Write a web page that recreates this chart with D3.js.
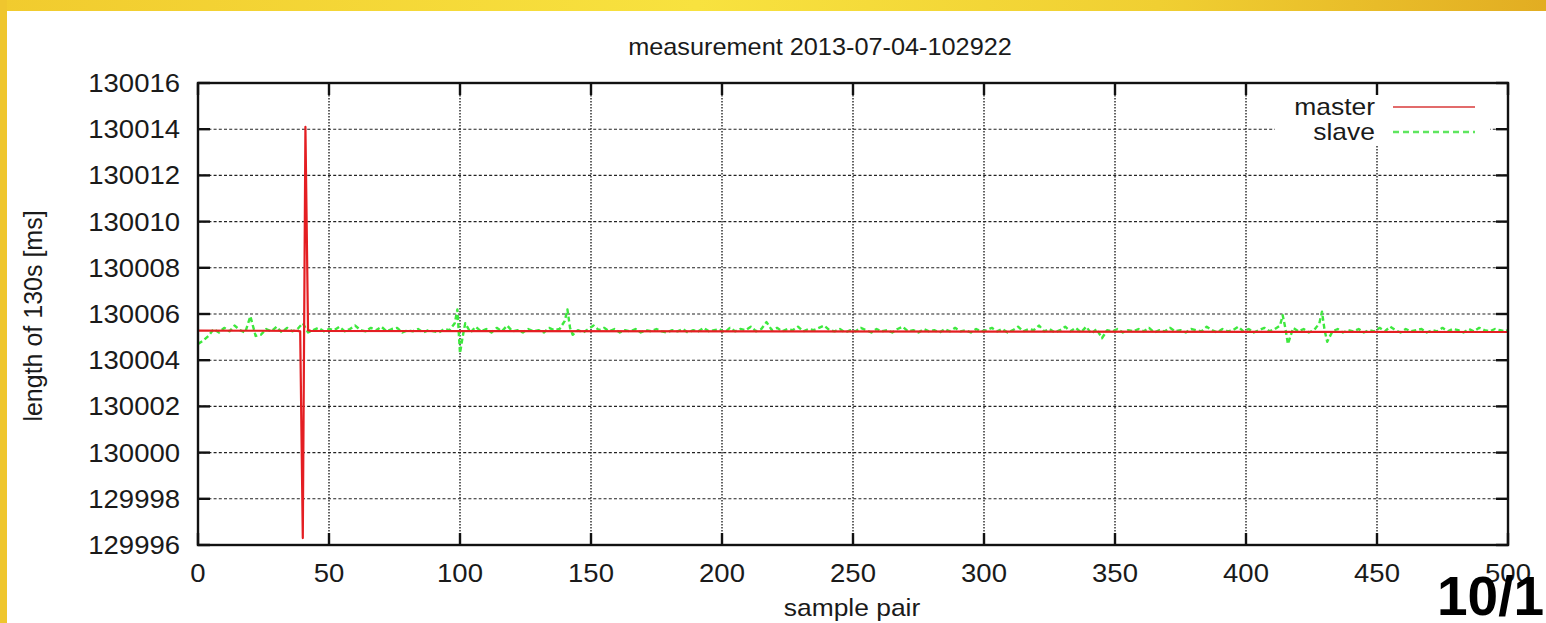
<!DOCTYPE html>
<html>
<head>
<meta charset="utf-8">
<script src="https://cdn.jsdelivr.net/npm/d3@7/dist/d3.min.js"></script>
<style>
  html, body { margin: 0; padding: 0; background: #fff; }
  svg { display: block; }
  text { font-family: "Liberation Sans", Arial, Helvetica, sans-serif; fill: #1a1a1a; }
</style>
</head>
<body>
<svg id="chart" width="1546" height="623"></svg>
<script>
// ---- data ----
const titleText = "measurement 2013-07-04-102922";
const xLabel = "sample pair";
const yLabel = "length of 130s [ms]";
const pageLabel = "10/1";
const seriesNames = ["master", "slave"];
const xTicks = [0, 50, 100, 150, 200, 250, 300, 350, 400, 450, 500];
const yTicks = [129996, 129998, 130000, 130002, 130004, 130006, 130008, 130010, 130012, 130014, 130016];

// master: flat except the glitch around sample 40
const masterX = [0, 38, 39, 40, 41, 42, 43, 500];
const masterY = [130005.28, 130005.27, 130005.25, 129996.3, 130014.1, 130005.3, 130005.27, 130005.22];

// slave: noisy around 130005.3
const slaveX = [0,2,4,6,8,10,12,14,16,18,20,22,24,26,28,30,32,34,36,38,40,42,44,46,48,50,52,54,56,58,60,62,64,66,68,70,72,74,76,78,80,82,84,86,88,90,92,94,96,98,
99,100,101,102,104,106,108,110,112,114,116,118,120,122,124,126,128,130,132,134,136,138,140,141,142,143,145,147,149,151,153,155,157,159,161,163,165,167,169,171,173,175,177,179,181,183,185,187,189,191,193,195,197,199,
201,203,205,207,209,211,213,215,217,219,221,223,225,227,229,231,233,235,237,239,241,243,245,247,249,251,253,255,257,259,261,263,265,267,269,271,273,275,277,279,281,283,285,287,289,291,293,295,297,299,
301,303,305,307,309,311,313,315,317,319,321,323,325,327,329,331,333,335,337,339,341,343,345,347,349,351,353,355,357,359,361,363,365,367,369,371,373,375,377,379,381,383,385,387,389,391,393,395,397,399,
401,403,405,407,409,411,413,414,415,416,418,420,422,424,426,428,429,430,431,433,435,437,439,441,443,445,447,449,451,453,455,457,459,461,463,465,467,469,471,473,475,477,479,481,483,485,487,489,491,493,495,497,499,500];
const slaveY = [130004.70,130004.85,130005.05,130005.35,130005.20,130005.40,130005.25,130005.50,130005.30,130005.20,130005.90,130005.05,130005.10,130005.35,130005.25,130005.45,130005.20,130005.40,130005.25,130005.35,130005.60,130005.20,130005.30,130005.40,130005.25,130005.35,130005.30,130005.45,130005.25,130005.35,130005.50,130005.30,130005.25,130005.40,130005.30,130005.45,130005.25,130005.35,130005.40,130005.20,130005.30,130005.25,130005.35,130005.20,130005.30,130005.25,130005.20,130005.35,130005.30,130005.60,
130006.20,130004.30,130005.00,130005.60,130005.20,130005.45,130005.25,130005.35,130005.20,130005.40,130005.25,130005.50,130005.25,130005.30,130005.20,130005.35,130005.25,130005.30,130005.20,130005.40,130005.30,130005.35,130005.70,130006.20,130005.40,130005.10,130005.30,130005.20,130005.35,130005.50,130005.30,130005.40,130005.25,130005.35,130005.20,130005.30,130005.25,130005.35,130005.20,130005.30,130005.25,130005.35,130005.25,130005.20,130005.30,130005.25,130005.35,130005.20,130005.30,130005.25,130005.40,130005.25,130005.30,130005.35,
130005.20,130005.40,130005.25,130005.35,130005.30,130005.45,130005.25,130005.35,130005.65,130005.30,130005.40,130005.25,130005.35,130005.30,130005.45,130005.25,130005.35,130005.30,130005.40,130005.50,130005.30,130005.25,130005.35,130005.20,130005.30,130005.25,130005.40,130005.30,130005.20,130005.35,130005.25,130005.30,130005.20,130005.35,130005.45,130005.25,130005.30,130005.20,130005.35,130005.25,130005.30,130005.20,130005.35,130005.25,130005.40,130005.25,130005.30,130005.20,130005.35,130005.25,
130005.30,130005.40,130005.25,130005.35,130005.20,130005.30,130005.45,130005.25,130005.35,130005.30,130005.50,130005.25,130005.35,130005.20,130005.30,130005.45,130005.25,130005.40,130005.20,130005.45,130005.15,130005.35,130004.95,130005.30,130005.25,130005.35,130005.20,130005.30,130005.25,130005.35,130005.25,130005.40,130005.20,130005.30,130005.25,130005.40,130005.25,130005.30,130005.20,130005.35,130005.30,130005.25,130005.45,130005.30,130005.20,130005.35,130005.25,130005.30,130005.45,130005.25,
130005.35,130005.20,130005.30,130005.40,130005.25,130005.35,130005.50,130005.95,130005.40,130004.70,130005.40,130005.25,130005.35,130005.20,130005.30,130005.60,130006.10,130005.30,130004.80,130005.25,130005.35,130005.20,130005.30,130005.25,130005.35,130005.20,130005.30,130005.25,130005.40,130005.25,130005.45,130005.30,130005.20,130005.35,130005.25,130005.30,130005.35,130005.20,130005.30,130005.25,130005.40,130005.25,130005.35,130005.30,130005.20,130005.35,130005.25,130005.40,130005.30,130005.25,130005.35,130005.30,130005.25,130005.30];

// ---- drawing ----
(function () {
const svg = d3.select("#chart");
const W = 1546, H = 623;
const pL = 198, pR = 1508, pT = 83, pB = 545;

const x = d3.scaleLinear().domain([0, 500]).range([pL, pR]);
const y = d3.scaleLinear().domain([129996, 130016]).range([pB, pT]);

// slide frame (yellow bars)
const defs = svg.append("defs");
const grad = defs.append("linearGradient").attr("id", "topbar").attr("x1", "0").attr("x2", "1");
grad.append("stop").attr("offset", "0").attr("stop-color", "#f1cb2e");
grad.append("stop").attr("offset", "0.45").attr("stop-color", "#f8e23f");
grad.append("stop").attr("offset", "0.75").attr("stop-color", "#f0cf32");
grad.append("stop").attr("offset", "1").attr("stop-color", "#e2ad22");
svg.append("rect").attr("x", 0).attr("y", 0).attr("width", W).attr("height", 11).attr("fill", "url(#topbar)");
svg.append("rect").attr("x", 0).attr("y", 0).attr("width", 7).attr("height", H).attr("fill", "#efc62e");

defs.append("clipPath").attr("id", "plotclip")
  .append("rect").attr("x", pL).attr("y", pT).attr("width", pR - pL).attr("height", pB - pT);

// grid
const grid = svg.append("g");
grid.selectAll("line.hg").data(yTicks.slice(1, -1)).join("line")
  .attr("x1", pL).attr("x2", pR)
  .attr("y1", d => y(d)).attr("y2", d => y(d))
  .attr("stroke", "#222").attr("stroke-width", 1.1).attr("stroke-dasharray", "3,2.2");
grid.selectAll("line.vg").data(xTicks.slice(1, -1)).join("line")
  .attr("y1", pT).attr("y2", pB)
  .attr("x1", d => x(d)).attr("x2", d => x(d))
  .attr("stroke", "#222").attr("stroke-width", 1.4).attr("stroke-dasharray", "1.6,1.4");

// data lines
const line = d3.line().x(d => x(d[0])).y(d => y(d[1]));
const masterPts = masterX.map((v, i) => [v, masterY[i]]);
const slavePts = slaveX.map((v, i) => [v, slaveY[i]]);
const plot = svg.append("g").attr("clip-path", "url(#plotclip)");
plot.append("path").datum(slavePts).attr("d", line)
  .attr("fill", "none").attr("stroke", "#3ee83e").attr("stroke-width", 2.4)
  .attr("stroke-dasharray", "5,3").attr("stroke-linejoin", "round");
plot.append("path").datum(masterPts).attr("d", line)
  .attr("fill", "none").attr("stroke", "#e41e22").attr("stroke-width", 2.2)
  .attr("stroke-linejoin", "round");

// legend
const legendBox = { x: 1275, y: 95, w: 215, h: 51 };
svg.append("rect").attr("x", legendBox.x).attr("y", legendBox.y)
  .attr("width", legendBox.w).attr("height", legendBox.h).attr("fill", "#fff");
const legendColors = ["#d83a3a", "#5ee65e"];
const legendDash = [null, "6,4"];
const sx = 1.1;
seriesNames.forEach((name, i) => {
  const ly = 107 + i * 25;
  svg.append("text").attr("transform", `translate(1375,${ly + 8}) scale(1.15,1)`).attr("text-anchor", "end")
    .style("font-size", "23px").text(name);
  svg.append("line").attr("x1", 1393).attr("x2", 1475).attr("y1", ly).attr("y2", ly)
    .attr("stroke", legendColors[i]).attr("stroke-width", i === 0 ? 1.6 : 2.4)
    .attr("stroke-dasharray", legendDash[i]);
});

// frame
svg.append("rect").attr("x", pL).attr("y", pT).attr("width", pR - pL).attr("height", pB - pT)
  .attr("fill", "none").attr("stroke", "#111").attr("stroke-width", 2.4);

// ticks (inward, all four sides)
const tl = 12;
const ticks = svg.append("g").attr("stroke", "#111").attr("stroke-width", 2.4);
ticks.selectAll("line.yl").data(yTicks).join("line")
  .attr("x1", pL).attr("x2", pL + tl).attr("y1", d => y(d)).attr("y2", d => y(d));
ticks.selectAll("line.yr").data(yTicks).join("line")
  .attr("x1", pR - tl).attr("x2", pR).attr("y1", d => y(d)).attr("y2", d => y(d));
ticks.selectAll("line.xb").data(xTicks).join("line")
  .attr("y1", pB).attr("y2", pB - tl).attr("x1", d => x(d)).attr("x2", d => x(d));
ticks.selectAll("line.xt").data(xTicks).join("line")
  .attr("y1", pT).attr("y2", pT + tl).attr("x1", d => x(d)).attr("x2", d => x(d));

// tick labels (slightly wide, as in the source image)
svg.append("g").selectAll("text").data(yTicks).join("text")
  .attr("transform", d => `translate(180,${y(d) + 9}) scale(${sx},1)`)
  .attr("text-anchor", "end").style("font-size", "25px").text(d => d);
svg.append("g").selectAll("text").data(xTicks).join("text")
  .attr("transform", d => `translate(${x(d)},582) scale(${sx},1)`)
  .attr("text-anchor", "middle").style("font-size", "25px").text(d => d);

// titles
svg.append("text").attr("transform", `translate(820,55) scale(${sx},1)`)
  .attr("text-anchor", "middle").style("font-size", "23px").text(titleText);
svg.append("text").attr("transform", `translate(852,616) scale(${sx},1)`)
  .attr("text-anchor", "middle").style("font-size", "24px").text(xLabel);
svg.append("text").attr("transform", "translate(42,316) rotate(-90)")
  .attr("text-anchor", "middle").style("font-size", "25px").text(yLabel);

// page number
svg.append("text").attr("x", 1437).attr("y", 615)
  .style("font-size", "55px").style("font-weight", "bold").style("fill", "#000")
  .text(pageLabel);
})();
</script>
</body>
</html>
